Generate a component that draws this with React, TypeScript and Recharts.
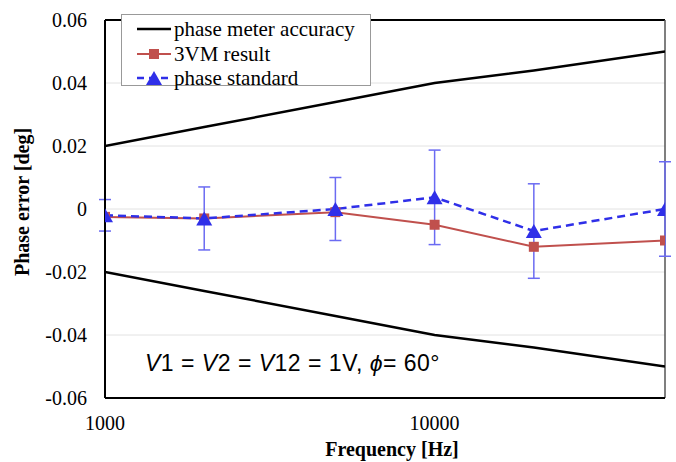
import React from "react";
import {
  ComposedChart,
  Line,
  XAxis,
  YAxis,
  CartesianGrid,
  ErrorBar,
  ReferenceLine,
} from "recharts";

const freqs = [1000, 2000, 5000, 10000, 20000, 50000];
const accuracyUpper = [0.02, 0.026, 0.034, 0.04, 0.044, 0.05];
const accuracyLower = [-0.02, -0.026, -0.034, -0.04, -0.044, -0.05];
const vmResult = [-0.0025, -0.003, -0.001, -0.005, -0.012, -0.01];
const phaseStandard = [-0.002, -0.003, 0.0, 0.0037, -0.007, 0.0];
const standardErr = [0.005, 0.01, 0.01, 0.015, 0.015, 0.015];
const yTicks = [-0.06, -0.04, -0.02, 0, 0.02, 0.04, 0.06];
const xTicks = [1000, 10000];

const RED = "#C0504D";
const BLUE = "#2F2FE8";
const SERIF = "'Liberation Serif', 'Times New Roman', serif";

const data = freqs.map((f, i) => ({
  freq: f,
  upper: accuracyUpper[i],
  lower: accuracyLower[i],
  vm: vmResult[i],
  std: phaseStandard[i],
  stdErr: standardErr[i],
}));

const Triangle = ({ cx, cy }: any) => {
  if (cx == null || cy == null) return null;
  return (
    <polygon
      points={`${cx},${cy - 7} ${cx + 8},${cy + 7} ${cx - 8},${cy + 7}`}
      fill={BLUE}
    />
  );
};

const Square = ({ cx, cy }: any) => {
  if (cx == null || cy == null) return null;
  return <rect x={cx - 5} y={cy - 5} width={10} height={10} fill={RED} />;
};

const XTitle = ({ viewBox }: any) => {
  const x = viewBox.x + viewBox.width / 2 + 7;
  const y = viewBox.y + 58;
  return (
    <text x={x} y={y} textAnchor="middle" fontFamily={SERIF} fontSize={20} fontWeight="bold" fill="#000">
      Frequency [Hz]
    </text>
  );
};

const YTitle = ({ viewBox }: any) => {
  const x = viewBox.x + 22;
  const y = viewBox.y + viewBox.height / 2 - 7;
  return (
    <text
      x={x}
      y={y}
      transform={`rotate(-90, ${x}, ${y})`}
      textAnchor="middle"
      dominantBaseline="central"
      fontFamily={SERIF}
      fontSize={20}
      fontWeight="bold"
      fill="#000"
    >
      Phase error [deg]
    </text>
  );
};

const legendItems = [
  { label: "phase meter accuracy", kind: "accuracy" },
  { label: "3VM result", kind: "vm" },
  { label: "phase standard", kind: "std" },
];

const LegendIcon = ({ kind }: { kind: string }) => (
  <svg width={34} height={16} style={{ marginRight: 3 }}>
    {kind === "accuracy" && <line x1={0} y1={8} x2={34} y2={8} stroke="#000" strokeWidth={2.5} />}
    {kind === "vm" && (
      <>
        <line x1={0} y1={8} x2={34} y2={8} stroke={RED} strokeWidth={2} />
        <rect x={12} y={3} width={10} height={10} fill={RED} />
      </>
    )}
    {kind === "std" && (
      <>
        <line x1={0} y1={8} x2={34} y2={8} stroke={BLUE} strokeWidth={2.5} strokeDasharray="7 5" />
        <polygon points="17,1 25,15 9,15" fill={BLUE} />
      </>
    )}
  </svg>
);

export default function App() {
  return (
    <div
      style={{
        position: "absolute",
        left: 0,
        top: 0,
        width: 676,
        height: 462,
        background: "#fff",
        fontFamily: SERIF,
      }}
    >
      <ComposedChart
        width={676}
        height={462}
        data={data}
        margin={{ top: 20, right: 11, bottom: 14, left: 0 }}
        style={{ fontFamily: SERIF }}
      >
        <CartesianGrid vertical={false} stroke="#e2e2e2" />
        <XAxis
          dataKey="freq"
          type="number"
          scale="log"
          domain={[1000, 50000]}
          ticks={xTicks}
          allowDataOverflow
          height={50}
          axisLine={{ stroke: "#000", strokeWidth: 2 }}
          tickLine={false}
          tickMargin={12}
          tick={{ fontFamily: SERIF, fontSize: 20, fill: "#000" }}
          label={<XTitle />}
        />
        <YAxis
          type="number"
          domain={[-0.06, 0.06]}
          ticks={yTicks}
          width={105}
          axisLine={{ stroke: "#000", strokeWidth: 2 }}
          tickLine={false}
          tickMargin={12}
          tick={{ fontFamily: SERIF, fontSize: 20, fill: "#000" }}
          tickFormatter={(v: number) => (v === 0 ? "0" : v.toFixed(2))}
          label={<YTitle />}
        />
        <ReferenceLine y={0.06} stroke="#000" strokeWidth={2} />
        <ReferenceLine x={50000} stroke="#555" strokeWidth={1.5} />
        <Line dataKey="upper" stroke="#000" strokeWidth={2.5} dot={false} isAnimationActive={false} />
        <Line dataKey="lower" stroke="#000" strokeWidth={2.5} dot={false} isAnimationActive={false} />
        <Line dataKey="std" stroke="none" dot={false} isAnimationActive={false}>
          <ErrorBar dataKey="stdErr" direction="y" width={6} stroke="#6B6BF2" strokeWidth={1.5} />
        </Line>
        <Line dataKey="vm" stroke={RED} strokeWidth={2} dot={<Square />} isAnimationActive={false} />
        <Line
          dataKey="std"
          stroke={BLUE}
          strokeWidth={2.5}
          strokeDasharray="8 5"
          dot={<Triangle />}
          isAnimationActive={false}
        />
      </ComposedChart>

      <div
        style={{
          position: "absolute",
          left: 121,
          top: 14,
          width: 250,
          height: 72,
          border: "1px solid #999",
          background: "#fff",
          boxSizing: "border-box",
          padding: "2px 0 0 15px",
          fontFamily: SERIF,
          fontSize: 21,
          color: "#000",
        }}
      >
        {legendItems.map((it) => (
          <div key={it.kind} style={{ display: "flex", alignItems: "center", height: 24.5, lineHeight: "24px" }}>
            <LegendIcon kind={it.kind} />
            <span>{it.label}</span>
          </div>
        ))}
      </div>

      <div
        style={{
          position: "absolute",
          left: 145,
          top: 348,
          lineHeight: "30px",
          fontFamily: "'Liberation Sans', Arial, sans-serif",
          fontSize: 23,
          letterSpacing: "0.5px",
          color: "#000",
          whiteSpace: "pre",
        }}
      >
        <i>V</i>1 = <i>V</i>2 = <i>V</i>12 = 1V, <i>ϕ</i>= 60°
      </div>
    </div>
  );
}
